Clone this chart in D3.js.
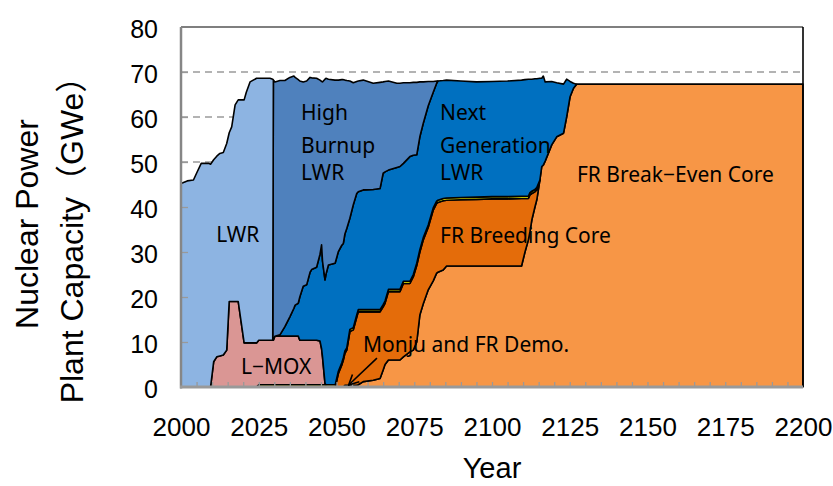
<!DOCTYPE html>
<html><head><meta charset="utf-8">
<script src="https://cdn.jsdelivr.net/npm/d3@7"></script>
<style>body{margin:0;background:#fff}svg{display:block}</style>
</head><body>
<svg id="c" width="833" height="486"></svg>
<script>
// ---- data (GWe) ----
const years = [2000,2002,2004,2005,2006.5,2009,2009.5,2010.5,2011.5,2012.5,2013.6,2014.7,2015.5,2016.3,2017.4,2018.4,2020.3,2021,2022.2,2024.3,
2025,2028.6,2029.5,2029.7,2030.2,2031.8,2033.4,2035,2036.3,2036.7,2037.7,2038.2,2039.3,2040.4,2041.5,2042,2043.6,2044.7,2045.2,2045.5,
2046.3,2046.6,2047.4,2049.5,2049.6,2050.6,2051.7,2052.2,2052.7,2053.3,2054.3,2055.4,2056.5,2057,2058.6,2061.8,2064,2065,2065.6,2066.7,
2069.4,2070.4,2071.5,2073.6,2074.7,2075.8,2076.8,2077.9,2079.5,2081.1,2082.2,2082.6,2084.3,2085.4,2090,2095,2100,2105,2109.5,2110.6,
2111.7,2112.2,2112.8,2113.8,2114.4,2115.4,2116,2116.5,2117.1,2119.2,2120.8,2123,2124,2125.1,2126.2,2127.2,2200];

const frBreakEven = [0,0,0,0,0,0,0,0,0,0,0,0,0,0,0,0,0,0,0,0,
0,0,0,0,0,0,0,0,0,0,0,0,0,0,0,0,0,0,0,0,
0,0,0,0,0,0,0,0,0.4,0.4,0.4,0.4,0.4,0.5,1.2,1.5,1.9,3.8,5.0,6.0,
6.0,6.0,6.7,7.8,8.2,10.0,16.0,18.5,21.6,23.6,25.3,25.5,26.0,26.9,26.9,26.9,26.9,26.9,26.9,30.0,
32.7,34.5,37.1,40.0,41.6,46.0,49.0,49.3,50.2,53.8,55.6,56.4,60.0,64.5,66.4,67.3,67.3];

const frBreeding = [0,0,0,0,0,0,0,0,0,0,0,0,0,0,0,0,0,0,0,0,
0,0,0,0,0,0,0,0,0,0,0,0,0,0,0,0,0,0,0,0,
0,0,0,0,0,3.0,4.9,6.0,7.1,7.8,11.9,12.3,15.1,16.2,15.5,15.2,14.8,14.0,13.6,15.2,
15.2,15.2,16.3,15.2,16.3,17.0,14.0,14.2,13.9,15.7,15.5,15.5,15.4,14.6,14.7,14.8,14.9,14.9,15.0,11.9,
9.2,8.2,5.9,3.4,2.2,0,0,0,0,0,0,0,0,0,0,0,0];

const monjuDemo = [0,0,0,0,0,0,0,0,0,0,0,0,0,0,0,0,0,0,0,0,
0.5,0.5,0.5,0.5,0.5,0.5,0.5,0.5,0.5,0.5,0.5,0.5,0.5,0.5,0.5,0.5,0.5,0.5,0.5,0.5,
0.5,0.5,0.5,0.5,0.5,0.5,0.5,0.5,0.5,0.5,0.5,0.5,0.5,0.5,0.5,0.5,0.5,0.5,0.5,0.5,
0.5,0.5,0.5,0.5,0.5,0.5,0.5,0.5,0.5,0.5,0.5,0.5,0.5,0.5,0.5,0.5,0.5,0.5,0.5,0.5,
0.5,0.5,0.5,0.5,0.5,0,0,0,0,0,0,0,0,0,0,0,0];

const lMox = [0,0,0,0,0,0,0,5.6,6.7,6.9,7.1,8.2,19,19,19,19,9.8,9.8,9.8,9.8,
9.9,9.9,9.9,9.9,10.8,10.8,10.8,10.8,10.8,10.8,10.8,9.9,9.9,9.9,9.9,9.9,9.9,9.7,8.0,6.2,
0.3,0,0,0,0,0,0,0,0,0,0,0,0,0,0,0,0,0,0,0,
0,0,0,0,0,0,0,0,0,0,0,0,0,0,0,0,0,0,0,0,
0,0,0,0,0,0,0,0,0,0,0,0,0,0,0,0,0];

const nextGenLWR = [0,0,0,0,0,0,0,0,0,0,0,0,0,0,0,0,0,0,0,0,
0,0,0,0,0,0.3,2.1,4.3,6.2,6.9,7.3,9.6,12.0,12.3,15.1,15.7,16.2,19.3,23.1,21.3,
23.0,24.5,26.6,27.0,27.1,26.6,26.1,25.4,26.0,26.5,24.7,27.3,27.0,26.2,26.6,26.7,26.9,29.2,28.7,26.5,
27.1,27.3,26.2,27.7,26.5,24.1,25.1,25.4,26.5,25.7,26.2,26.5,26.2,26.2,25.9,25.6,25.6,25.7,25.8,25.9,
26.0,25.2,24.9,24.6,24.2,22.6,19.6,19.8,17.6,14.1,12.0,10.9,8.4,3.4,1.1,0,0];

const highBurnupLWR = [0,0,0,0,0,0,0,0,0,0,0,0,0,0,0,0,0,0,0,0,
0,0,0,57.8,56.5,56.5,54.7,53.2,51.6,50.6,49.7,48.0,45.4,45.3,43.3,42.6,42.0,38.7,36.3,39.8,
44.6,43.6,41.3,40.7,40.6,38.1,36.8,36.4,34.2,32.9,30.5,27.1,24.9,24.6,24.4,23.6,23.6,20.3,20.1,19.8,
18.7,18.5,17.9,16.4,16.2,16.1,12.2,9.2,5.4,2.4,0.5,0,0,0,0,0,0,0,0,0,
0,0,0,0,0,0,0,0,0,0,0,0,0,0,0,0,0];

const lwr = [45.2,45.8,46.0,47.5,49.7,49.7,49.5,44.9,44.6,45.0,45.0,45.9,37.5,38.8,43.7,44.8,54.0,55.7,58.0,58.8,
58.2,58.2,58.0,0,0,0,0,0,0,0,0,0,0,0,0,0,0,0,0,0,
0,0,0,0,0,0,0,0,0,0,0,0,0,0,0,0,0,0,0,0,
0,0,0,0,0,0,0,0,0,0,0,0,0,0,0,0,0,0,0,0,
0,0,0,0,0,0,0,0,0,0,0,0,0,0,0,0,0];

const seriesKeys = ["frBreakEven","frBreeding","monjuDemo","lMox","nextGenLWR","highBurnupLWR","lwr"];
const seriesColors = ["#F79646","#E46C0A","#FFFF00","#DA9694","#0070C0","#4F81BD","#8DB4E2"];
const xTickLabels = [2000,2025,2050,2075,2100,2125,2150,2175,2200];
const yTickLabels = [0,10,20,30,40,50,60,70,80];

// ---- chart ----
const svg = d3.select("#c");
const x = d3.scaleLinear().domain([2000,2200]).range([181,803]);
const y = d3.scaleLinear().domain([0,80]).range([387,27]);

const cols = {frBreakEven, frBreeding, monjuDemo, lMox, nextGenLWR, highBurnupLWR, lwr};
const table = years.map((yr,i)=>{
  const r = {year: yr};
  seriesKeys.forEach(k=> r[k] = cols[k][i]);
  return r;
});
const stacked = d3.stack().keys(seriesKeys)(table);

// gridlines
svg.append("g").selectAll("line").data([10,20,30,40,50,60,70]).join("line")
  .attr("x1", x(2000)).attr("x2", x(2200))
  .attr("y1", d=>y(d)).attr("y2", d=>y(d))
  .attr("stroke","#9a9a9a").attr("stroke-width",1.3).attr("stroke-dasharray","7,5");

const val = d => d[1]-d[0];
const area = d3.area()
  .x(d=>x(d.data.year)).y0(d=>y(d[0])).y1(d=>y(d[1]))
  .defined((d,i,arr)=> val(d)>0 || (i>0 && val(arr[i-1])>0) || (i<arr.length-1 && val(arr[i+1])>0));

svg.append("g").selectAll("path").data(stacked).join("path")
  .attr("d", s=>area(s))
  .attr("fill", (s,i)=>seriesColors[i])
  .attr("stroke","#000").attr("stroke-width",1.6).attr("stroke-linejoin","round");

// axes
const fontAx = "'Liberation Sans', Arial, sans-serif";
const yAxis = svg.append("g").attr("transform",`translate(${x(2000)},0)`)
  .call(d3.axisLeft(y).tickValues(yTickLabels).tickSizeInner(-7).tickSizeOuter(0).tickPadding(23));
yAxis.select(".domain").remove();
yAxis.selectAll(".tick line").attr("stroke","#999").attr("stroke-width",1.3)
  .filter(d=>d===0||d===80).remove();
yAxis.selectAll(".tick text").attr("font-family",fontAx).attr("font-size",25).attr("fill","#000")
  .attr("dy","0.42em");

const xMinor = svg.append("g").attr("transform",`translate(0,${y(0)})`)
  .call(d3.axisBottom(x).tickValues(d3.range(2005,2200,5)).tickSizeInner(-5).tickSizeOuter(0).tickFormat(""));
xMinor.select(".domain").remove();
xMinor.selectAll(".tick line").attr("stroke","#999").attr("stroke-width",1.3);

const xAxis = svg.append("g").attr("transform",`translate(0,${y(0)})`)
  .call(d3.axisBottom(x).tickValues(xTickLabels).tickSize(0).tickPadding(31).tickFormat(d3.format("d")));
xAxis.select(".domain").remove();
xAxis.selectAll(".tick text").attr("font-family",fontAx).attr("font-size",26).attr("fill","#000");

// frame
svg.append("line").attr("x1",x(2000)).attr("x2",x(2200)).attr("y1",y(80)).attr("y2",y(80))
  .attr("stroke","#000").attr("stroke-width",1.2);
svg.append("line").attr("x1",x(2200)).attr("x2",x(2200)).attr("y1",y(80)).attr("y2",y(0))
  .attr("stroke","#000").attr("stroke-width",1.6);
svg.append("line").attr("x1",x(2000)).attr("x2",x(2000)).attr("y1",y(80)).attr("y2",y(0)+1.5)
  .attr("stroke","#868686").attr("stroke-width",2.5);
svg.append("line").attr("x1",x(2000)-1).attr("x2",x(2200)).attr("y1",y(0)).attr("y2",y(0))
  .attr("stroke","#999").attr("stroke-width",3);

// titles
svg.append("text").attr("x",(x(2000)+x(2200))/2).attr("y",478).attr("text-anchor","middle")
  .attr("font-family",fontAx).attr("font-size",29).text("Year");
svg.append("text").attr("transform","translate(38,224) rotate(-90)").attr("text-anchor","middle")
  .attr("font-family",fontAx).attr("font-size",32).text("Nuclear Power");
svg.append("text").attr("transform","translate(83,232) rotate(-90)").attr("text-anchor","middle")
  .attr("font-family",fontAx+", 'Noto Sans CJK JP'").attr("font-size",32).text("Plant Capacity（GWe）");

// series labels
const fontLbl = "'Noto Sans', 'Noto Sans CJK JP', sans-serif";
const labels = [
  {t:"High", yr:2038.6, v:59.3},{t:"Burnup", yr:2038.6, v:52.1},{t:"LWR", yr:2038.6, v:46.1},
  {t:"Next", yr:2083.3, v:59.3},{t:"Generation", yr:2083.3, v:52.1},{t:"LWR", yr:2083.3, v:46.1},
  {t:"LWR", yr:2011.3, v:32.2},
  {t:"L−MOX", yr:2019.3, v:2.9},
  {t:"Monju and FR Demo.", yr:2058.5, v:7.8},
  {t:"FR Breeding Core", yr:2083.3, v:31.9},
  {t:"FR Break−Even Core", yr:2127.3, v:45.6}
];
svg.append("g").selectAll("text").data(labels).join("text")
  .attr("x",d=>x(d.yr)).attr("y",d=>y(d.v))
  .attr("font-family",fontLbl).attr("font-size",21).attr("fill","#000").text(d=>d.t);

// arrow for Monju and FR Demo.
const defs = svg.append("defs");
defs.append("marker").attr("id","ah").attr("viewBox","0 0 12 12").attr("refX",11).attr("refY",6)
  .attr("markerWidth",12).attr("markerHeight",12).attr("markerUnits","userSpaceOnUse").attr("orient","auto")
  .append("path").attr("d","M1,1 L11,6 L1,11").attr("fill","none").attr("stroke","#000").attr("stroke-width",1.6);
svg.append("line").attr("x1",x(2063)).attr("y1",y(6.4)).attr("x2",x(2053.9)).attr("y2",y(0.45))
  .attr("stroke","#000").attr("stroke-width",1.6).attr("marker-end","url(#ah)");
</script>
</body></html>
